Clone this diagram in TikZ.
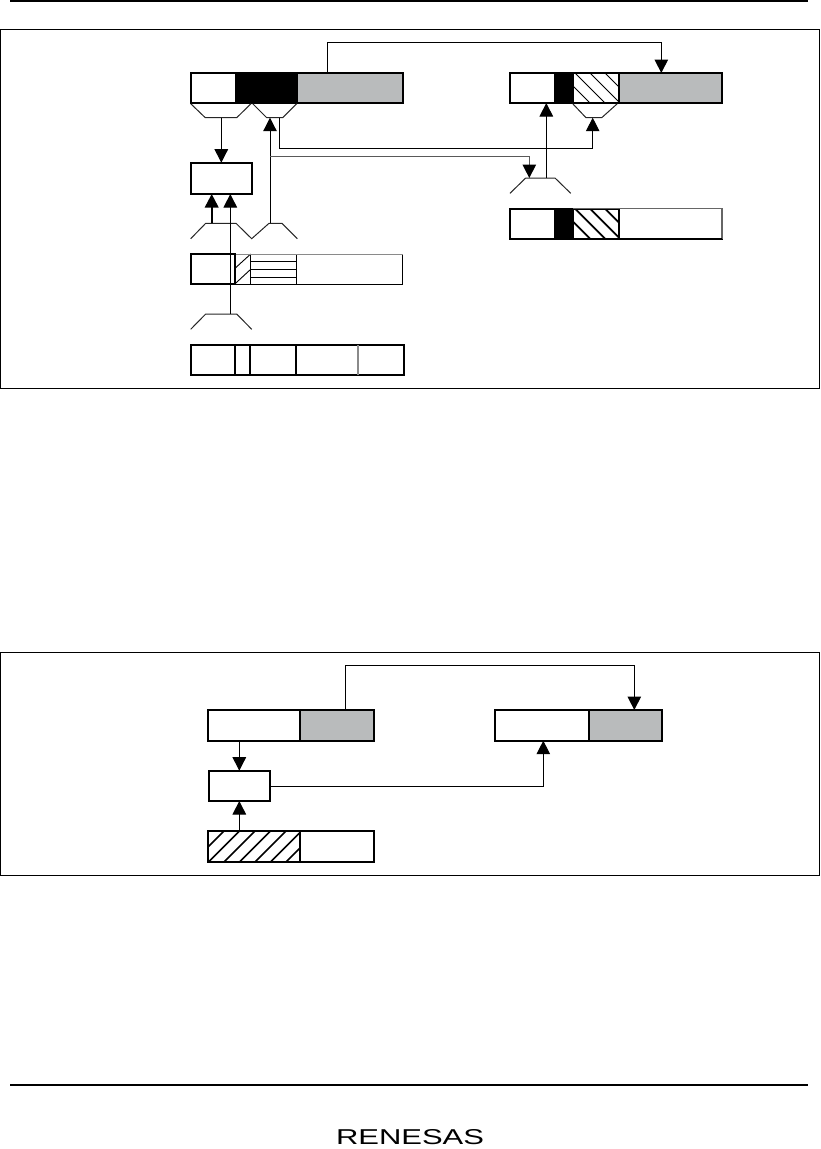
\documentclass[tikz,border=0pt]{standalone}
\usepackage{fontspec}
\setmainfont{Liberation Sans}
\usetikzlibrary{arrows.meta}
\definecolor{barfill}{HTML}{B9BBBC}
\definecolor{edgegray}{HTML}{8A8A8A}
\newcommand{\cellbox}[6][]{\node[cell,#1,minimum width=#4pt-#2pt,minimum height=#5pt-#3pt] (#6) at (#2,#3) {};}
\tikzset{
  cell/.style={draw=black,line width=1.7pt,fill=white,inner sep=0pt,outer sep=0pt,anchor=north west},
  thincell/.style={line width=1pt},
  shade/.style={fill=barfill},
  solid black/.style={fill=black},
  frameline/.style={draw=black,line width=1pt},
  rule/.style={draw=black,line width=2pt},
  wire/.style={draw=black,line width=1pt},
  mux/.style={draw=black!85,line width=1pt},
  flow/.style={wire,-{Triangle[length=13.5pt,width=13.5pt,color=black,fill=black]}},
  hatchline/.style={draw=black,line width=0.9pt},
  hatchbold/.style={draw=black,line width=1.7pt},
}
\begin{document}
\begin{tikzpicture}[x=1pt,y=-1pt]
\useasboundingbox (0,0) rectangle (820,1149);
% rules and frames
\coordinate (headL) at (10,0.8); \coordinate (headR) at (808,0.8);
\draw[rule] (headL) -- (headR);
\coordinate (footL) at (10,1085); \coordinate (footR) at (808,1085);
\draw[rule] (footL) -- (footR);
\draw[frameline] (0.5,29.5) rectangle (819.5,388);
\draw[frameline] (0.5,652) rectangle (819.5,875.5);

% --- upper figure, bar A
\cellbox{190.7}{72.7}{236}{103}{a1}
\cellbox[solid black]{236}{72.7}{297.3}{103}{a2}
\cellbox[shade]{297.3}{72.7}{403.3}{103}{a3}
% box B
\cellbox{190.7}{162.7}{252.3}{194}{bb}
% bar C
\cellbox{510}{73}{555}{103}{c1}
\cellbox[solid black]{555}{73}{573}{103}{c2}
\cellbox{573}{73}{618.7}{103}{c3}
\begin{scope}
\clip (c3.north west) rectangle (c3.south east);
\foreach \q in {560,575,590,605} \draw[hatchline] (\q,73) -- (\q+30,103);
\end{scope}
\draw[line width=1.7pt] (c3.north west) rectangle (c3.south east);
\cellbox[shade]{618.7}{73}{722}{103}{c4}
% bar D
\cellbox{510}{208.7}{555}{239}{d1}
\cellbox[solid black]{555}{208.7}{573}{239}{d2}
\cellbox{573}{208.7}{619}{239}{d3}
\begin{scope}
\clip (d3.north west) rectangle (d3.south east);
\foreach \q in {560,575,590,605} \draw[hatchbold] (\q,208.7) -- (\q+30.3,239);
\end{scope}
\draw[line width=1.7pt] (d3.north west) rectangle (d3.south east);
\cellbox[thincell]{619}{208.7}{722}{239}{d4}
\draw[draw=black!60,line width=1.5pt] (573,208.7) -- (722,208.7) -- (722,239);
\draw[line width=1.6pt] (619,239) -- (722,239);
% bar E
\cellbox{190.7}{254}{235}{284.3}{e1}
\cellbox[thincell]{235}{254}{250.7}{284.3}{e2}
\coordinate (h1a) at (235,268.3); \coordinate (h1b) at (250.7,254);
\coordinate (h2a) at (235,283.8); \coordinate (h2b) at (250.7,269.3);
\draw[hatchline] (h1a) -- (h1b) (h2a) -- (h2b);
\cellbox[thincell]{250.7}{254}{296.3}{261.7}{e3}
\cellbox[thincell]{250.7}{261.7}{296.3}{269.3}{e4}
\cellbox[thincell]{250.7}{269.3}{296.3}{277}{e5}
\cellbox[thincell]{250.7}{277}{296.3}{284.3}{e6}
\cellbox[thincell]{296.3}{254}{402.7}{284.3}{e7}
\draw[draw=edgegray,line width=1pt] (235,254) -- (402.7,254);
\draw[line width=1.7pt] (e1.north west) rectangle (e1.south east);
% bar F
\cellbox{190.7}{345}{235}{375}{f1}
\cellbox{235}{345}{250}{375}{f2}
\cellbox{250}{345}{296.3}{375}{f3}
\cellbox{296.3}{345}{358}{375}{f4}
\cellbox{358}{345}{404.3}{375}{f5}
\draw[draw=edgegray,line width=1.2pt] (f4.north east) -- (f4.south east);

% multiplexer outlines
\draw[mux] (190.7,103.7) -- (205.3,117.7) coordinate (mA) -- (221.3,117.7) coordinate (mAo) -- (236.7,117.7) -- (251,103.7);
\draw[mux] (252.7,103.7) -- (266.7,117.7) -- (270,117.7) coordinate (mBi) -- (279.3,117.7) coordinate (mBo) -- (282.7,117.7) -- (296.7,103.7);
\draw[mux] (572.7,103.7) -- (586,117.7) -- (592.7,117.7) coordinate (mCi) -- (601.7,117.7) -- (617.3,103.7);
\draw[mux] (510,193.3) -- (525.7,178) -- (529.3,178) coordinate (mDi) -- (546.3,178) coordinate (mDo) -- (555,178) -- (570.7,193.3);
\draw[mux] (190.7,238.7) -- (205.7,223.3) -- (211.7,223.3) coordinate (mE) -- (236,223.3) -- (251.7,238.7) -- (269,223.3) -- (270,223.3) coordinate (mFo) -- (282,223.3) -- (297.3,238.7);
\draw[mux] (190.7,329.3) -- (205.7,314) -- (230.3,314) coordinate (mG) -- (236.7,314) -- (251.7,329.3);

% connectors, upper figure
\coordinate (topA) at (327.3,72.7);
\coordinate (topC) at (661.3,73);
\coordinate (topRail) at (327.3,42.3);
\draw[flow] (topA) -- (topRail) -| (topC);
\coordinate (bbT) at (221.3,162.7);
\draw[flow] (mAo) -- (bbT);
\draw[flow] (mFo) -- (mBi);
\coordinate (railB) at (279.3,148.3);
\draw[flow] (mBo) -- (railB) -| (mCi);
\coordinate (railS) at (270,156.7);
\draw[flow,draw=black!65,line width=1.2pt] (railS) -| (mDi);
\coordinate (c1b) at (546.3,103);
\draw[flow] (mDo) -- (c1b);
\coordinate (bbL) at (211.7,194); \coordinate (bbR) at (230.3,194);
\draw[flow,line width=2pt] (mE) -- (bbL);
\draw[flow] (mG) -- (bbR);

% --- lower figure
\cellbox{207.7}{710}{300}{740.7}{g1}
\cellbox[shade]{300}{710}{374.3}{740.7}{g2}
\cellbox{494.7}{710}{589}{740.7}{k1}
\cellbox[shade]{589}{710}{662.3}{740.7}{k2}
\cellbox{208.7}{770.7}{270.3}{801}{ii}
\cellbox{207.7}{831}{300}{862}{j1}
\begin{scope}
\clip (j1.north west) rectangle (j1.south east);
\foreach \q in {193,208.5,224,239.5,255,270.5,286} \draw[hatchline,line width=1.6pt] (\q,862) -- (\q+31,831);
\end{scope}
\draw[line width=1.7pt] (j1.north west) rectangle (j1.south east);
\cellbox{300}{831}{374.3}{862}{j2}

\coordinate (gtop) at (345.3,710);
\coordinate (ktop) at (634.3,710);
\coordinate (lowRail) at (345.3,665.3);
\draw[flow] (gtop) -- (lowRail) -| (ktop);
\coordinate (g1b) at (239.3,740.7); \coordinate (iit) at (239.3,770.7);
\draw[flow] (g1b) -- (iit);
\coordinate (j1t) at (239.3,831); \coordinate (iib) at (239.3,801);
\draw[flow] (j1t) -- (iib);
\coordinate (iir) at (270.3,786.3); \coordinate (k1b) at (543.3,740.7);
\draw[flow] (iir) -| (k1b);

% logo
\node[inner sep=0pt,anchor=center,font=\fontsize{21.5pt}{22pt}\selectfont] (logo) at (410,1137) {\scalebox{1.44}[1]{RENESAS}};
\end{tikzpicture}
\end{document}
